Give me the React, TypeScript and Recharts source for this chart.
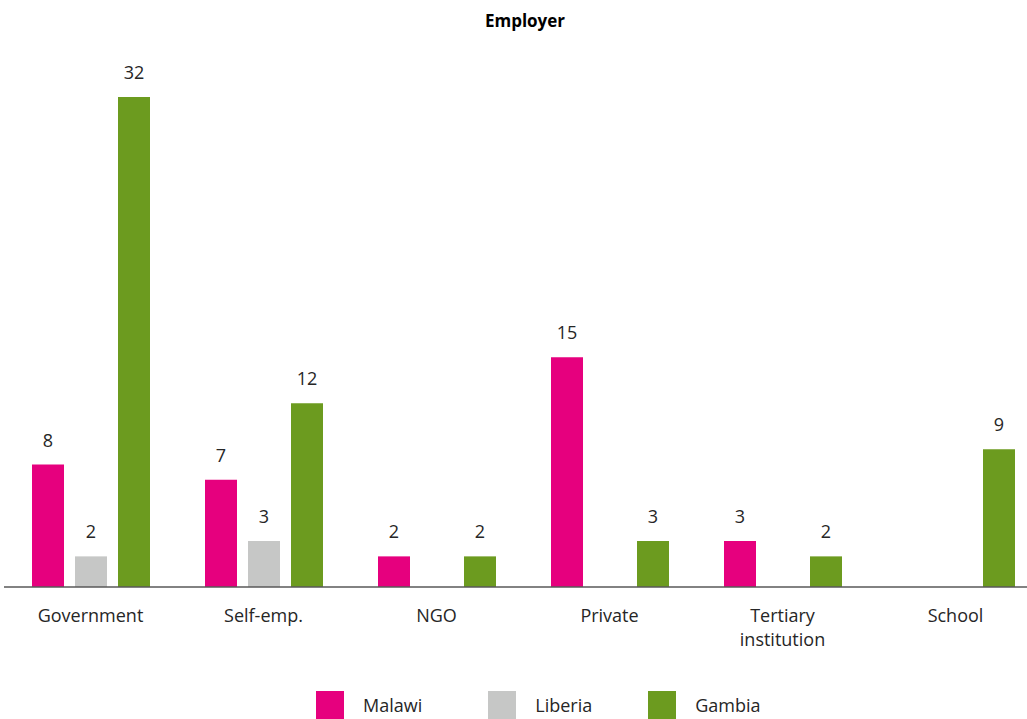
import React from "react";
import { BarChart, Bar, XAxis, YAxis, LabelList } from "recharts";

// Employer breakdown by country
const CATEGORIES = ["Government", "Self-emp.", "NGO", "Private", "Tertiary institution", "School"];
const MALAWI  = [8, 7, 2, 15, 3, null];
const LIBERIA = [2, 3, null, null, null, null];
const GAMBIA  = [32, 12, 2, 3, 2, 9];

const SERIES = [
  { key: "Malawi",  values: MALAWI,  color: "#E6007E" },
  { key: "Liberia", values: LIBERIA, color: "#C6C7C6" },
  { key: "Gambia",  values: GAMBIA,  color: "#6C9B1F" },
];

const FONT = "'Open Sans', 'Segoe UI', sans-serif";
const TEXT = "#262626";

const chartData = CATEGORIES.map((name, i) => {
  const row: Record<string, string | number | null> = { name };
  SERIES.forEach((s) => { row[s.key] = s.values[i]; });
  return row;
});

// wrap long category names onto two lines
function wrapLabel(text: string, max = 12): string[] {
  if (text.length <= max) return [text];
  const lines: string[] = [];
  let cur = "";
  text.split(" ").forEach((w) => {
    if (cur && (cur + " " + w).length > max) { lines.push(cur); cur = w; }
    else cur = cur ? cur + " " + w : w;
  });
  if (cur) lines.push(cur);
  return lines;
}

function CategoryTick(props: any) {
  const { x, y, payload } = props;
  const lines = wrapLabel(String(payload.value));
  return (
    <text x={x} y={y + 35} textAnchor="middle" fill={TEXT} fontSize={18} fontFamily={FONT}>
      {lines.map((l, i) => (
        <tspan key={i} x={x} dy={i === 0 ? 0 : 24}>{l}</tspan>
      ))}
    </text>
  );
}

export default function App() {
  return (
    <div style={{ position: "absolute", left: 0, top: 0, width: 1027, height: 719, overflow: "hidden", background: "#fff", fontFamily: FONT }}>
      <div style={{ position: "absolute", left: 0, top: 9, width: 1050, textAlign: "center", fontWeight: 700, fontSize: 17, color: "#000" }}>
        Employer
      </div>
      <div style={{ position: "absolute", left: 0, top: 0 }}>
        <BarChart
          width={1050}
          height={680}
          data={chartData}
          margin={{ top: 97, right: 8, left: 4, bottom: 33 }}
          barSize={32}
          barGap={11}
        >
          <XAxis
            dataKey="name"
            height={60}
            tickLine={false}
            tickSize={0}
            tickMargin={0}
            interval={0}
            axisLine={{ stroke: "#595959", strokeWidth: 1.5 }}
            tick={<CategoryTick />}
          />
          <YAxis hide domain={[0, 32]} />
          {SERIES.map((s) => (
            <Bar key={s.key} dataKey={s.key} fill={s.color} isAnimationActive={false}>
              <LabelList dataKey={s.key} position="top" offset={18} fill={TEXT} fontSize={18} fontFamily={FONT} />
            </Bar>
          ))}
        </BarChart>
      </div>
      <div style={{ position: "absolute", left: 316, top: 691, display: "flex", alignItems: "center" }}>
        {SERIES.map((s, i) => (
          <div key={s.key} style={{ display: "flex", alignItems: "center", marginRight: i === 0 ? 66 : 56 }}>
            <span style={{ width: 28, height: 28, background: s.color, display: "inline-block", marginRight: 19 }} />
            <span style={{ fontSize: 18, color: TEXT }}>{s.key}</span>
          </div>
        ))}
      </div>
    </div>
  );
}
